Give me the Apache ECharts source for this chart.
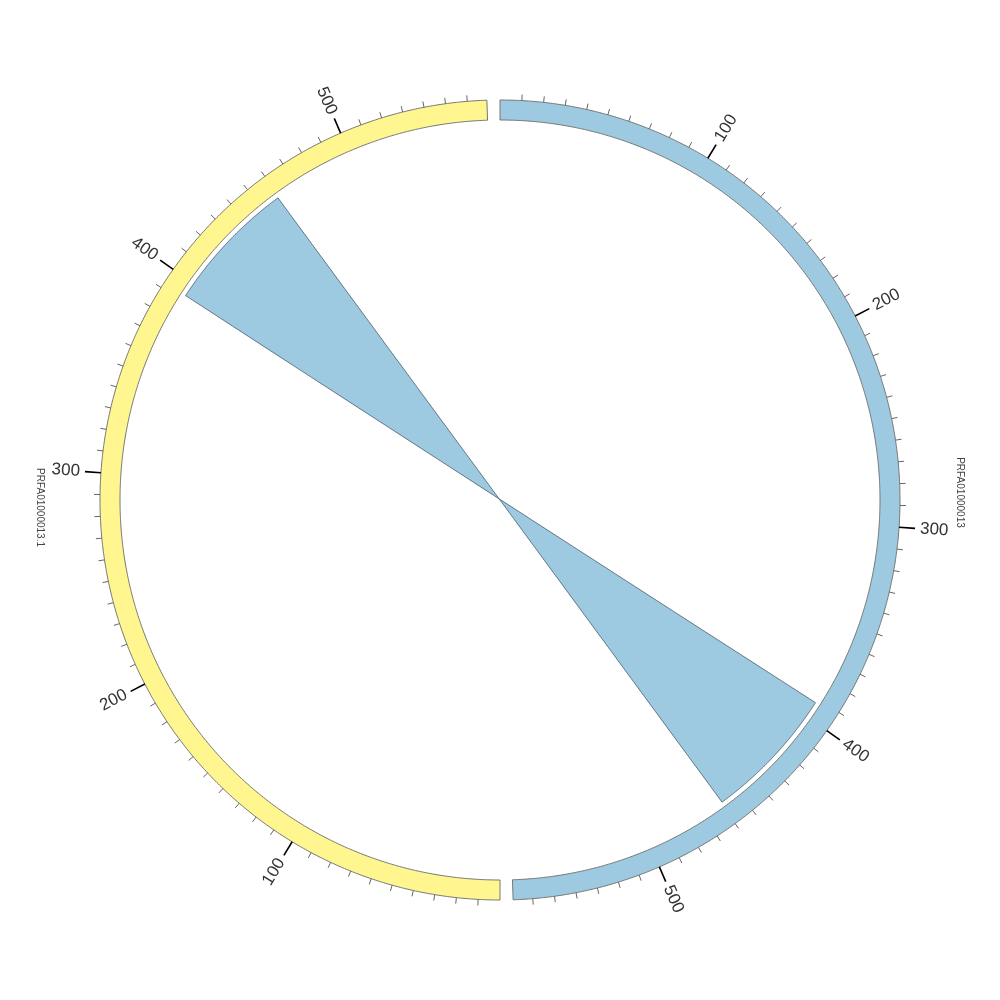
<!DOCTYPE html>
<html>
<head>
<meta charset="utf-8">
<style>html,body{margin:0;padding:0;background:#fff}#chart{width:1000px;height:1000px}</style>
<script src="https://cdn.jsdelivr.net/npm/echarts@6/dist/echarts.min.js"></script>
</head>
<body>
<div id="chart"></div>
<script>
// ---- data ----
const contigNames = ['PRFA01000013', 'PRFA01000013.1'];
const contigLengths = [569, 569];
const contigColors = ['#9ecae1', '#fff68f'];
const gapAfterContig = [6, 6];
const minorTickStep = 10;
const majorTickValues = [100, 200, 300, 400, 500];
const majorTickLabels = ['100', '200', '300', '400', '500'];
// link: [contigIndex, start, end]
const linkSource = [0, 392, 459];
const linkTarget = [1, 393, 459];

// ---- layout helpers (positions on the genome axis) ----
const offsets = [];
let acc = 0;
contigLengths.forEach((L, i) => { offsets.push(acc); acc += L + gapAfterContig[i]; });
const total = acc;

const R_IN = 380, R_OUT = 400, R_MINOR = 406, R_MAJOR = 416, R_LABEL = 421, R_NAME = 460, R_LINK = 375;

function arcPoints(api, r, a, b, step) {
  const pts = [];
  const n = Math.max(2, Math.ceil(Math.abs(b - a) / step));
  for (let k = 0; k <= n; k++) pts.push(api.coord([r, a + (b - a) * k / n]));
  return pts;
}
function screenAngle(api, p) {
  const c = api.coord([0, 0]);
  return Math.atan2(p[0] - c[0], -(p[1] - c[1])) * 180 / Math.PI;
}

const ringData = contigLengths.map((L, i) => [R_OUT, offsets[i]]);
const tickData = [];
contigLengths.forEach((L, i) => {
  for (let v = minorTickStep; v <= L; v += minorTickStep) {
    tickData.push([R_OUT, offsets[i] + v, i, v]);
  }
});
const labelData = [];
contigLengths.forEach((L, i) => {
  majorTickValues.forEach((v, j) => { if (v <= L) labelData.push([R_LABEL, offsets[i] + v, i, j]); });
});
const nameData = contigLengths.map((L, i) => [R_NAME, offsets[i] + L / 2, i]);

const chart = echarts.init(document.getElementById('chart'), null, { renderer: 'canvas' });
chart.setOption({
  backgroundColor: '#ffffff',
  animation: false,
  polar: { center: ['50%', '50%'], radius: 400 },
  angleAxis: { type: 'value', min: 0, max: total, startAngle: 90, clockwise: true, show: false },
  radiusAxis: { type: 'value', min: 0, max: 400, show: false },
  series: [
    {
      type: 'custom', coordinateSystem: 'polar', data: ringData, silent: true,
      renderItem: function (params, api) {
        const i = params.dataIndex;
        const s = offsets[i], e = offsets[i] + contigLengths[i];
        const outer = arcPoints(api, R_OUT, s, e, 1);
        const inner = arcPoints(api, R_IN, e, s, 1);
        return {
          type: 'polygon', shape: { points: outer.concat(inner) },
          style: { fill: contigColors[i], stroke: '#777777', lineWidth: 1 }
        };
      }
    },
    {
      type: 'custom', coordinateSystem: 'polar', data: [[R_LINK, 0]], silent: true,
      renderItem: function (params, api) {
        const a1 = offsets[linkSource[0]] + linkSource[1];
        const a2 = offsets[linkSource[0]] + linkSource[2];
        const b1 = offsets[linkTarget[0]] + linkTarget[1];
        const b2 = offsets[linkTarget[0]] + linkTarget[2];
        const c = api.coord([0, 0]);
        function bez(p0, p2) {
          const pts = [];
          for (let k = 1; k < 40; k++) {
            const t = k / 40, u = 1 - t;
            pts.push([u * u * p0[0] + 2 * u * t * c[0] + t * t * p2[0],
                      u * u * p0[1] + 2 * u * t * c[1] + t * t * p2[1]]);
          }
          return pts;
        }
        const arcA = arcPoints(api, R_LINK, a1, a2, 0.5);
        const arcB = arcPoints(api, R_LINK, b2, b1, 0.5);
        const pts = arcA.concat(bez(arcA[arcA.length - 1], arcB[0]), arcB, bez(arcB[arcB.length - 1], arcA[0]));
        return {
          type: 'polygon', shape: { points: pts },
          style: { fill: contigColors[linkSource[0]], stroke: '#1f2f3f', lineWidth: 0.6 }
        };
      }
    },
    {
      type: 'custom', coordinateSystem: 'polar', data: tickData, silent: true,
      renderItem: function (params, api) {
        const pos = api.value(1), v = api.value(3);
        const major = majorTickValues.indexOf(v) >= 0;
        const p0 = api.coord([R_OUT, pos]);
        const p1 = api.coord([major ? R_MAJOR : R_MINOR, pos]);
        return {
          type: 'line', shape: { x1: p0[0], y1: p0[1], x2: p1[0], y2: p1[1] },
          style: { stroke: major ? '#000000' : '#666666', lineWidth: major ? 1.6 : 1 }
        };
      }
    },
    {
      type: 'custom', coordinateSystem: 'polar', data: labelData, silent: true,
      renderItem: function (params, api) {
        const pos = api.value(1), j = api.value(3);
        const p = api.coord([R_LABEL, pos]);
        const th = screenAngle(api, p);
        const thn = (th + 360) % 360;
        const right = thn < 180;
        const rotDeg = right ? (90 - thn) : (270 - thn);
        return {
          type: 'text', x: p[0], y: p[1], rotation: rotDeg * Math.PI / 180,
          style: {
            text: majorTickLabels[j], fill: '#333333', fontSize: 17,
            fontFamily: 'Liberation Sans, Arial, sans-serif',
            align: right ? 'left' : 'right', verticalAlign: 'middle'
          }
        };
      }
    },
    {
      type: 'custom', coordinateSystem: 'polar', data: nameData, silent: true,
      renderItem: function (params, api) {
        const i = api.value(2);
        const p = api.coord([R_NAME, api.value(1)]);
        return {
          type: 'text', x: p[0], y: p[1], rotation: -Math.PI / 2,
          style: {
            text: contigNames[i], fill: '#444444', fontSize: 10,
            fontFamily: 'Liberation Sans, Arial, sans-serif',
            align: 'center', verticalAlign: 'middle'
          }
        };
      }
    }
  ]
});
</script>
</body>
</html>
